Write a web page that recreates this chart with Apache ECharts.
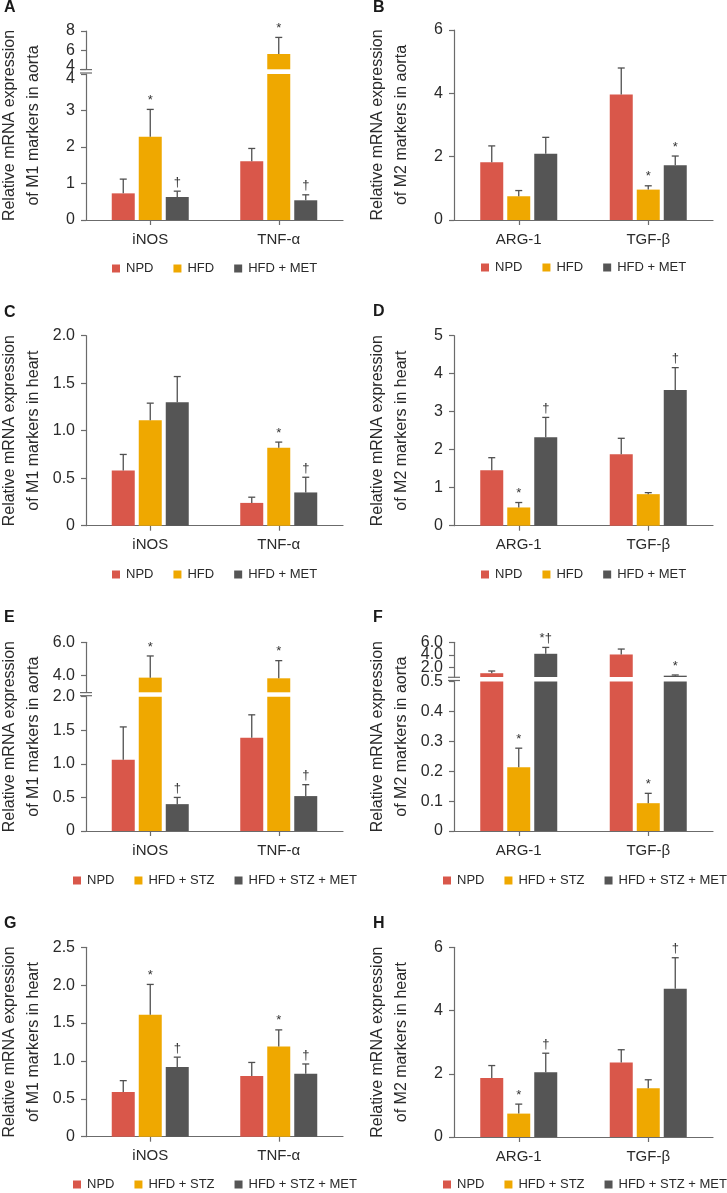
<!DOCTYPE html>
<html><head><meta charset="utf-8">
<script src="https://cdn.jsdelivr.net/npm/echarts@6/dist/echarts.min.js"></script>
<style>html,body{margin:0;padding:0;background:#fff}#c{width:727px;height:1193px}</style>
</head><body><div id="c"></div>
<script>
// ---------- categories / groups ----------
const catsM1 = ['iNOS', 'TNF-α'];
const catsM2 = ['ARG-1', 'TGF-β'];
const groupsHFD = ['NPD', 'HFD', 'HFD + MET'];
const groupsSTZ = ['NPD', 'HFD + STZ', 'HFD + STZ + MET'];
const noSig = ['', ''];

// ---------- A: M1 aorta (HFD) ----------
const A_npd = [0.73, 1.61], A_npdSem = [0.39, 0.35];
const A_hfd = [2.28, 5.60], A_hfdSem = [0.75, 1.73];
const A_met = [0.63, 0.54], A_metSem = [0.16, 0.15];
const A_hfdSig = ['*', '*'], A_metSig = ['†', '†'];
const A_upperTicks = [4, 6, 8];

// ---------- B: M2 aorta (HFD) ----------
const B_npd = [1.82, 3.96], B_npdSem = [0.52, 0.84];
const B_hfd = [0.75, 0.96], B_hfdSem = [0.18, 0.12];
const B_met = [2.09, 1.73], B_metSem = [0.52, 0.29];
const B_hfdSig = ['', '*'], B_metSig = ['', '*'];

// ---------- C: M1 heart (HFD) ----------
const C_npd = [0.58, 0.24], C_npdSem = [0.17, 0.06];
const C_hfd = [1.11, 0.82], C_hfdSem = [0.18, 0.06];
const C_met = [1.30, 0.35], C_metSem = [0.27, 0.16];
const C_hfdSig = ['', '*'], C_metSig = ['', '†'];

// ---------- D: M2 heart (HFD) ----------
const D_npd = [1.46, 1.88], D_npdSem = [0.33, 0.42];
const D_hfd = [0.48, 0.83], D_hfdSem = [0.13, 0.04];
const D_met = [2.33, 3.57], D_metSem = [0.52, 0.59];
const D_hfdSig = ['*', ''], D_metSig = ['†', '†'];

// ---------- E: M1 aorta (HFD+STZ) ----------
const E_npd = [1.06, 1.39], E_npdSem = [0.49, 0.34];
const E_hfd = [3.88, 3.84], E_hfdSem = [1.30, 1.06];
const E_met = [0.40, 0.52], E_metSem = [0.10, 0.17];
const E_hfdSig = ['*', '*'], E_metSig = ['†', '†'];
const E_upperTicks = [4, 6];

// ---------- F: M2 aorta (HFD+STZ) ----------
const F_npd = [1.10, 4.07], F_npdSem = [0.35, 0.86];
const F_hfd = [0.213, 0.093], F_hfdSem = [0.064, 0.033];
const F_met = [4.18, 0.71], F_metSem = [1.01, 0.11];
const F_hfdSig = ['*', '*'], F_metSig = ['*†', '*'];
const F_upperTicks = [2, 4, 6];

// ---------- G: M1 heart (HFD+STZ) ----------
const G_npd = [0.59, 0.80], G_npdSem = [0.15, 0.18];
const G_hfd = [1.61, 1.19], G_hfdSem = [0.40, 0.22];
const G_met = [0.92, 0.83], G_metSem = [0.13, 0.13];
const G_hfdSig = ['*', '*'], G_metSig = ['†', '†'];

// ---------- H: M2 heart (HFD+STZ) ----------
const H_npd = [1.87, 2.36], H_npdSem = [0.39, 0.40];
const H_hfd = [0.74, 1.54], H_hfdSem = [0.30, 0.27];
const H_met = [2.05, 4.69], H_metSem = [0.60, 0.98];
const H_hfdSig = ['*', ''], H_metSig = ['†', '†'];

const yM1aorta = 'Relative mRNA expression\nof M1 markers in aorta';
const yM2aorta = 'Relative mRNA expression\nof M2 markers in aorta';
const yM1heart = 'Relative mRNA expression\nof M1 markers in heart';
const yM2heart = 'Relative mRNA expression\nof M2 markers in heart';

// ---------- styles / layout ----------
const COLORS = ['#D9574A', '#EFA800', '#555555'];
const BAR_W = 23, BAR_GAP_PX = 4;
const AXIS_COLOR = '#6b6b6b';
const TEXT_COLOR = '#2a2a2a';
const FONT = "'Liberation Sans', Arial, sans-serif";
const TICK_FS = 16;
const fmtInt = v => String(Math.round(v * 100) / 100);
const fmtDec = v => (Math.abs(v) < 1e-9 ? '0' : v.toFixed(1));
const COLS = [{left: 86, width: 257, letterLeft: 4}, {left: 454, width: 259, letterLeft: 373}];

const PANELS = [
  {key: 'A', col: 0, top: 31, bottom: 220, cats: catsM1, groups: groupsHFD, vals: [A_npd, A_hfd, A_met], sems: [A_npdSem, A_hfdSem, A_metSem], sigs: [noSig, A_hfdSig, A_metSig], yName: yM1aorta, yMax: 4, interval: 1, fmt: fmtInt, upper: {min: 4, max: 8, ticks: A_upperTicks, bottom: 69.3}, lowerTop: 74, nudge: true, legendLeft: 112, legendY: 270, letterY: 9},
  {key: 'B', col: 1, top: 30, bottom: 220, cats: catsM2, groups: groupsHFD, vals: [B_npd, B_hfd, B_met], sems: [B_npdSem, B_hfdSem, B_metSem], sigs: [noSig, B_hfdSig, B_metSig], yName: yM2aorta, yMax: 6, interval: 2, fmt: fmtInt, legendLeft: 481, legendY: 269, letterY: 9},
  {key: 'C', col: 0, top: 335.7, bottom: 525.7, cats: catsM1, groups: groupsHFD, vals: [C_npd, C_hfd, C_met], sems: [C_npdSem, C_hfdSem, C_metSem], sigs: [noSig, C_hfdSig, C_metSig], yName: yM1heart, yMax: 2, interval: 0.5, fmt: fmtDec, legendLeft: 112, legendY: 576, letterY: 314},
  {key: 'D', col: 1, top: 335.7, bottom: 525.7, cats: catsM2, groups: groupsHFD, vals: [D_npd, D_hfd, D_met], sems: [D_npdSem, D_hfdSem, D_metSem], sigs: [noSig, D_hfdSig, D_metSig], yName: yM2heart, yMax: 5, interval: 1, fmt: fmtInt, legendLeft: 481, legendY: 576, letterY: 313},
  {key: 'E', col: 0, top: 642.3, bottom: 831, cats: catsM1, groups: groupsSTZ, vals: [E_npd, E_hfd, E_met], sems: [E_npdSem, E_hfdSem, E_metSem], sigs: [noSig, E_hfdSig, E_metSig], yName: yM1aorta, yMax: 2, interval: 0.5, fmt: fmtDec, upper: {min: 3, max: 6, ticks: E_upperTicks, bottom: 692.3}, lowerTop: 696.7, legendLeft: 73, legendY: 882, letterY: 619},
  {key: 'F', col: 1, top: 642.3, bottom: 831, cats: catsM2, groups: groupsSTZ, vals: [F_npd, F_hfd, F_met], sems: [F_npdSem, F_hfdSem, F_metSem], sigs: [noSig, F_hfdSig, F_metSig], yName: yM2aorta, yMax: 0.5, interval: 0.1, fmt: fmtDec, upper: {min: 0.5, max: 6, ticks: F_upperTicks, bottom: 677}, lowerTop: 681.5, legendLeft: 443, legendY: 882, letterY: 619},
  {key: 'G', col: 0, top: 947.3, bottom: 1136.7, cats: catsM1, groups: groupsSTZ, vals: [G_npd, G_hfd, G_met], sems: [G_npdSem, G_hfdSem, G_metSem], sigs: [noSig, G_hfdSig, G_metSig], yName: yM1heart, yMax: 2.5, interval: 0.5, fmt: fmtDec, legendLeft: 73, legendY: 1186, letterY: 925},
  {key: 'H', col: 1, top: 947.3, bottom: 1137, cats: catsM2, groups: groupsSTZ, vals: [H_npd, H_hfd, H_met], sems: [H_npdSem, H_hfdSem, H_metSem], sigs: [noSig, H_hfdSig, H_metSig], yName: yM2heart, yMax: 6, interval: 2, fmt: fmtInt, legendLeft: 443, legendY: 1186, letterY: 925}
];

const option = {animation: false, backgroundColor: '#ffffff', textStyle: {fontFamily: FONT},
  grid: [], xAxis: [], yAxis: [], series: [], legend: [], title: []};

const RICH = {
  up: {fontSize: TICK_FS, color: TEXT_COLOR, fontFamily: FONT, padding: [0, 0, 5, 0]},
  dn: {fontSize: TICK_FS, color: TEXT_COLOR, fontFamily: FONT, padding: [9, 0, 0, 0]}
};
const NAME_STYLE = {fontSize: 16, lineHeight: 24, color: TEXT_COLOR, fontFamily: FONT};

function addGrid(left, top, width, height) {
  option.grid.push({left, top, width, height, containLabel: false, outerBoundsMode: 'none'});
  return option.grid.length - 1;
}
function pushX(cfg) { option.xAxis.push(cfg); return option.xAxis.length - 1; }
function pushY(cfg) { option.yAxis.push(cfg); return option.yAxis.length - 1; }

function xAxisCfg(g, cats, visible) {
  return {gridIndex: g, type: 'category', data: cats, show: visible,
    axisLine: {show: true, onZero: false, lineStyle: {color: AXIS_COLOR, width: 1.2}},
    axisTick: {show: true, alignWithLabel: true, length: 5, lineStyle: {color: AXIS_COLOR, width: 1.2}},
    axisLabel: {fontSize: 15, color: TEXT_COLOR, margin: 12, fontFamily: FONT},
    splitLine: {show: false}};
}
function yAxisCfg(g, c) {
  const a = {gridIndex: g, type: 'value', position: 'left', offset: 0, min: c.min, max: c.max,
    axisLine: {show: c.line !== false, onZero: false, lineStyle: {color: AXIS_COLOR, width: 1.2}},
    axisTick: {show: c.tick !== false, length: 5, lineStyle: {color: AXIS_COLOR, width: 1.2}},
    axisLabel: {fontSize: TICK_FS, color: TEXT_COLOR, margin: 11, fontFamily: FONT, formatter: c.fmt, rich: RICH,
      showMinLabel: true, showMaxLabel: true, hideOverlap: false},
    splitLine: {show: false}};
  if (c.interval) a.interval = c.interval;
  if (c.labelValues) a.axisLabel.customValues = c.labelValues;
  if (c.tickValues) a.axisTick.customValues = c.tickValues;
  if (c.name) Object.assign(a, {name: c.name, nameLocation: 'middle', nameGap: 40, nameRotate: 90, nameTextStyle: NAME_STYLE});
  return a;
}
function makeErr(i, sigs) {
  return function (params, api) {
    const cat = api.value(0), v = api.value(1), s = api.value(2);
    const p0 = api.coord([cat, v]);
    const p1 = api.coord([cat, v + s]);
    const x = p0[0] + (i - 1) * (BAR_W + BAR_GAP_PX);
    const st = {stroke: '#505050', lineWidth: 1.3};
    const children = [
      {type: 'line', shape: {x1: x, y1: p0[1], x2: x, y2: p1[1]}, style: st},
      {type: 'line', shape: {x1: x - 3.5, y1: p1[1], x2: x + 3.5, y2: p1[1]}, style: st}
    ];
    const m = sigs[cat];
    if (m) children.push({type: 'text', x: x, y: p1[1] - 9,
      style: {text: m, fill: '#333', fontSize: 13, fontFamily: FONT, align: 'center', verticalAlign: 'middle'}});
    return {type: 'group', children};
  };
}
function makeBreak(gap) {
  return function (params) {
    const cs = params.coordSys;
    const x = cs.x;
    const ya = cs.y - 1, yb = cs.y - gap + 0.3;
    const st = {stroke: AXIS_COLOR, lineWidth: 1.2};
    return {type: 'group', children: [
      {type: 'line', shape: {x1: x - 6, y1: ya, x2: x + 6, y2: ya}, style: st},
      {type: 'line', shape: {x1: x - 6, y1: yb, x2: x + 6, y2: yb}, style: st}
    ]};
  };
}
function addSeries(xi, yi, p, mode) {
  for (let i = 0; i < 3; i++) {
    const vals = p.vals[i], sems = p.sems[i];
    const keep = v => (mode === 'upper' ? v > p.upper.min : true);
    const errKeep = v => (mode === 'upper' ? v > p.upper.min : mode === 'lower' ? v <= p.yMax : true);
    option.series.push({type: 'bar', name: p.groups[i], xAxisIndex: xi, yAxisIndex: yi,
      data: vals.map(v => (keep(v) ? v : '-')), barWidth: BAR_W, barGap: (BAR_GAP_PX / BAR_W * 100) + '%',
      clip: true, silent: true, itemStyle: {color: COLORS[i]}});
    option.series.push({type: 'custom', name: 'err-' + p.key + i, xAxisIndex: xi, yAxisIndex: yi,
      data: vals.map((v, j) => [j, v, sems[j]]).filter(d => errKeep(d[1])),
      renderItem: makeErr(i, p.sigs[i]), silent: true, z: 5});
  }
}

PANELS.forEach(p => {
  const col = COLS[p.col];
  if (!p.upper) {
    const g = addGrid(col.left, p.top, col.width, p.bottom - p.top);
    const xi = pushX(xAxisCfg(g, p.cats, true));
    const yi = pushY(yAxisCfg(g, {min: 0, max: p.yMax, interval: p.interval, fmt: p.fmt, name: p.yName}));
    addSeries(xi, yi, p, 'all');
  } else {
    const lowFmt = p.nudge ? (v => (v === p.yMax ? '{dn|' + p.fmt(v) + '}' : p.fmt(v))) : p.fmt;
    const upFmt = p.nudge ? (v => (v === p.upper.min ? '{up|' + p.fmt(v) + '}' : p.fmt(v))) : p.fmt;
    // lower segment
    const gl = addGrid(col.left, p.lowerTop, col.width, p.bottom - p.lowerTop);
    const xl = pushX(xAxisCfg(gl, p.cats, true));
    const yl = pushY(yAxisCfg(gl, {min: 0, max: p.yMax, interval: p.interval, fmt: lowFmt}));
    addSeries(xl, yl, p, 'lower');
    option.series.push({type: 'custom', name: 'brk-' + p.key, xAxisIndex: xl, yAxisIndex: yl, data: [[0, 0]],
      silent: true, z: 6, renderItem: makeBreak(p.lowerTop - p.upper.bottom)});
    // upper segment: labels split over two overlaid axes so that close labels are all kept
    const gu = addGrid(col.left, p.top, col.width, p.upper.bottom - p.top);
    const xu = pushX(xAxisCfg(gu, p.cats, false));
    const evenTicks = p.upper.ticks.filter((t, i) => i % 2 === 0);
    const oddTicks = p.upper.ticks.filter((t, i) => i % 2 === 1);
    const yu = pushY(yAxisCfg(gu, {min: p.upper.min, max: p.upper.max, labelValues: evenTicks, tickValues: p.upper.ticks, fmt: upFmt}));
    if (oddTicks.length) {
      pushY(yAxisCfg(gu, {min: p.upper.min, max: p.upper.max, labelValues: oddTicks, tickValues: oddTicks, fmt: upFmt, line: false, tick: false}));
    }
    addSeries(xu, yu, p, 'upper');
    // frame for the shared axis title
    const gf = addGrid(col.left, p.top, col.width, p.bottom - p.top);
    pushX({gridIndex: gf, type: 'category', data: p.cats, show: false});
    pushY({gridIndex: gf, type: 'value', min: 0, max: 1,
      axisLine: {show: false}, axisTick: {show: false}, axisLabel: {show: false}, splitLine: {show: false},
      name: p.yName, nameLocation: 'middle', nameGap: 40, nameRotate: 90, nameTextStyle: NAME_STYLE});
  }
  option.title.push({text: p.key, left: col.letterLeft, top: p.letterY - 9, padding: 0,
    textStyle: {fontSize: 16, fontWeight: 'bold', color: '#1a1a1a', fontFamily: FONT}});
  option.legend.push({data: p.groups, left: p.legendLeft, top: p.legendY - 8, width: 330, padding: 0, orient: 'horizontal',
    itemWidth: 8, itemHeight: 8, itemGap: 20, icon: 'rect', selectedMode: false,
    textStyle: {fontSize: 13, color: TEXT_COLOR, fontFamily: FONT, padding: [0, 0, 0, 1]}});
});

const chart = echarts.init(document.getElementById('c'), null, {renderer: 'canvas'});
chart.setOption(option);
</script>
</body></html>
